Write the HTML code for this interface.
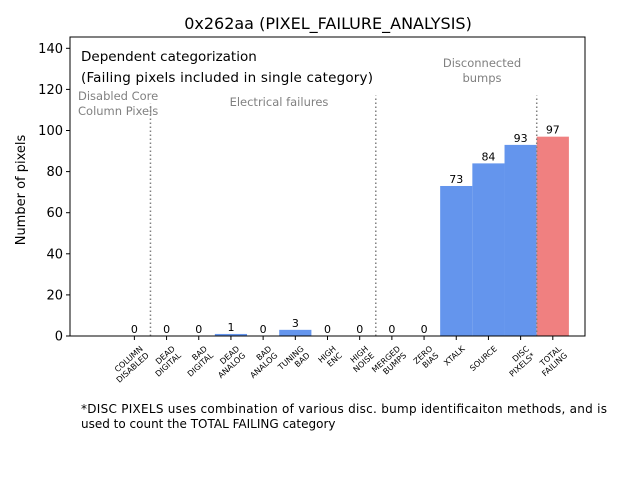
<!DOCTYPE html>
<html><head><meta charset="utf-8"><style>
body{margin:0;background:#fff;width:640px;height:480px;overflow:hidden}
svg{display:block;font-family:"DejaVu Sans","Liberation Sans",sans-serif}
</style></head><body>
<svg id="c" width="640" height="480">
<text x="328" y="29" font-size="16" text-anchor="middle">0x262aa (PIXEL_FAILURE_ANALYSIS)</text>
<text x="81" y="61" font-size="13.5">Dependent categorization</text>
<text x="81" y="82" font-size="13.5" textLength="292">(Failing pixels included in single category)</text>
<text font-size="11.5" fill="#808080"><tspan x="78" y="100">Disabled Core</tspan><tspan x="78" y="115">Column Pixels</tspan></text>
<text x="279" y="106" font-size="11.5" fill="#808080" text-anchor="middle">Electrical failures</text>
<text font-size="11.5" fill="#808080" text-anchor="middle"><tspan x="482" y="67">Disconnected</tspan><tspan x="482" y="82">bumps</tspan></text>
<text x="25" y="190" font-size="13" text-anchor="middle" transform="rotate(-90 25 190)">Number of pixels</text>
<text font-size="12"><tspan x="81" y="413" textLength="526">*DISC PIXELS uses combination of various disc. bump identificaiton methods, and is</tspan><tspan x="81" y="428">used to count the TOTAL FAILING category</tspan></text>
<g id="plot"></g>
</svg>
<script>
const categories=[["COLUMN","DISABLED"],["DEAD","DIGITAL"],["BAD","DIGITAL"],["DEAD","ANALOG"],["BAD","ANALOG"],["TUNING","BAD"],["HIGH","ENC"],["HIGH","NOISE"],["MERGED","BUMPS"],["ZERO","BIAS"],["XTALK"],["SOURCE"],["DISC","PIXELS*"],["TOTAL","FAILING"]];
const values=[0,0,0,1,0,3,0,0,0,0,73,84,93,97];
const yTicks=[0,20,40,60,80,100,120,140];
const dividers=[0.5,7.5,12.5];
const dividerTops=[113,117,117];
const L=70,R=585,T=37,B=336,xmin=-2,xmax=14,ymax=145.5;
const sx=v=>L+(v-xmin)/(xmax-xmin)*(R-L);
const sy=v=>B-v/ymax*(B-T);
const bw=sx(1)-sx(0);
const ns="http://www.w3.org/2000/svg";
const g=document.getElementById('plot');
function mk(t,a){const e=document.createElementNS(ns,t);for(const k in a)e.setAttribute(k,a[k]);g.appendChild(e);return e;}
values.forEach((v,i)=>{
 const r=mk('rect',{x:sx(i)-bw/2,y:sy(v),width:bw,height:B-sy(v),fill:i==13?'#f08080':'#6495ed'});
 
 
 const t=mk('text',{x:sx(i),y:sy(v)-3,'font-size':11,'text-anchor':'middle'});t.textContent=v;
 
 
 mk('line',{x1:sx(i),x2:sx(i),y1:B,y2:B+4,stroke:'#000'});
 const n=categories[i].length;
 const lb=mk('text',{'font-size':8,'text-anchor':'end',transform:`translate(${sx(i)+5},${B+9}) rotate(-42)`});
 
 
 categories[i].forEach((s,j)=>{const ts=document.createElementNS(ns,'tspan');ts.setAttribute('x',0);ts.setAttribute('y',j*9+6);ts.textContent=s;lb.appendChild(ts);});
});
dividers.forEach((d,i)=>{const l=mk('line',{x1:sx(d),x2:sx(d),y1:B,y2:sy(dividerTops[i]),stroke:'#808080','stroke-width':1.5,'stroke-dasharray':'1.5,2.5'});
 
 });
yTicks.forEach(v=>{mk('line',{x1:L-4,x2:L,y1:sy(v),y2:sy(v),stroke:'#000'});
 const t=mk('text',{x:L-7,y:sy(v)+4.5,'font-size':13,'text-anchor':'end'});t.textContent=v;
 
 });
const f=mk('rect',{x:L,y:T,width:R-L,height:B-T,fill:'none',stroke:'#000','stroke-width':1});


</script>
</body></html>
